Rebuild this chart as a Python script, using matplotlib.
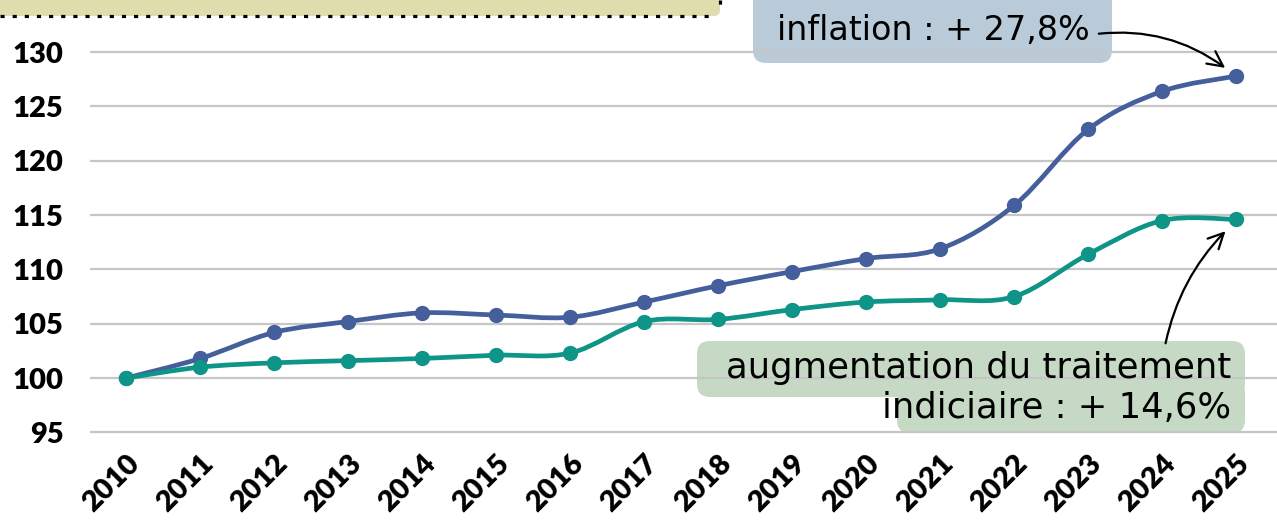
import matplotlib
matplotlib.use("Agg")
import matplotlib.pyplot as plt
import numpy as np
from matplotlib.path import Path
from matplotlib.patches import PathPatch, FancyBboxPatch

# Data (index 2010 = 100)
years = list(range(2010, 2026))
inflation = [100, 101.8, 104.2, 105.2, 106.0, 105.8, 105.6, 107.0,
             108.5, 109.8, 111.0, 111.9, 115.9, 122.9, 126.4, 127.8]
traitement = [100, 101.0, 101.4, 101.6, 101.8, 102.1, 102.3, 105.2,
              105.4, 106.3, 107.0, 107.2, 107.5, 111.4, 114.5, 114.6]
y_ticks = [95, 100, 105, 110, 115, 120, 125, 130]
label_infl = "inflation : + 27,8%"
label_trait_1 = "augmentation du traitement"
label_trait_2 = "indiciaire : + 14,6%"

BLUE = "#455e9c"
GREEN = "#0f9488"
TICK_FONT = "Lato"
TEXT_FONT = "DejaVu Sans"

W, H = 1277, 523


def smooth_path(xs, ys):
    # Catmull-Rom style smoothing turned into cubic bezier segments
    pts = np.column_stack([xs, ys]).astype(float)
    verts = [pts[0]]
    codes = [Path.MOVETO]
    n = len(pts)
    for i in range(n - 1):
        p0 = pts[i - 1] if i > 0 else pts[i]
        p1 = pts[i]
        p2 = pts[i + 1]
        p3 = pts[i + 2] if i + 2 < n else pts[i + 1]
        c1 = p1 + (p2 - p0) / 6.0
        c2 = p2 - (p3 - p1) / 6.0
        verts += [c1, c2, p2]
        codes += [Path.CURVE4] * 3
    return Path(verts, codes)


fig = plt.figure(figsize=(W / 100, H / 100), dpi=100)

# background layer (pixel coords) for the boxes
bg = fig.add_axes([0, 0, 1, 1], zorder=0)
bg.set_xlim(0, W)
bg.set_ylim(H, 0)
bg.axis("off")

# main chart
ax_top, ax_bot = 41.3, 443.2
ax = fig.add_axes([90 / W, 1 - ax_bot / H, 1 - 90 / W, (ax_bot - ax_top) / H], zorder=1)
ax.set_facecolor("none")
ax.set_xlim(2009.51, 2025.55)
ax.set_ylim(94, 131)
ax.set_yticks(y_ticks)
ax.set_xticks(years)
for s in ax.spines.values():
    s.set_visible(False)
ax.grid(axis="y", color="#c6c6c6", linewidth=1.6)
ax.set_axisbelow(True)
ax.tick_params(length=0)
ax.tick_params(axis="y", pad=19)
ax.tick_params(axis="x", pad=5)
for lab in ax.get_yticklabels():
    lab.set_fontfamily(TICK_FONT)
    lab.set_fontweight("heavy")
    lab.set_fontsize(21)
ax.set_xticklabels([str(y) for y in years], rotation=45, ha="right", va="top",
                   rotation_mode="anchor", fontfamily=TICK_FONT, fontweight="heavy",
                   fontsize=21)

for vals, col in [(inflation, BLUE), (traitement, GREEN)]:
    ax.add_patch(PathPatch(smooth_path(years, vals), fill=False, edgecolor=col,
                           linewidth=3.4, capstyle="round", zorder=3))
    ax.plot(years, vals, linestyle="none", marker="o", markersize=10,
            color=col, zorder=4)

# title strip (cut off at the top)
bg.add_patch(FancyBboxPatch((-30, -40), 750, 56, boxstyle="round,pad=0,rounding_size=6",
                            facecolor="#dfdcae", edgecolor="none"))
bg.plot([0, 715], [16, 16], color="black", linewidth=2.3, linestyle=(0, (1.3, 2.5)),
        dash_capstyle="butt")
bg.plot([720, 720], [0, 12], color="black", linewidth=2.3, linestyle=(0, (1.3, 2.5)),
        dash_capstyle="butt")

# annotation boxes
bg.add_patch(FancyBboxPatch((753, -20), 359, 83, boxstyle="round,pad=0,rounding_size=13",
                            facecolor="#b9cbd9", edgecolor="none"))
bg.add_patch(FancyBboxPatch((697, 341), 548, 56, boxstyle="round,pad=0,rounding_size=13",
                            facecolor="#c5d9c5", edgecolor="none"))
bg.add_patch(FancyBboxPatch((897, 380), 348, 53, boxstyle="round,pad=0,rounding_size=13",
                            facecolor="#c5d9c5", edgecolor="none"))

# foreground layer for texts and arrows
fg = fig.add_axes([0, 0, 1, 1], zorder=2)
fg.set_xlim(0, W)
fg.set_ylim(H, 0)
fg.axis("off")

fg.text(933, 30, label_infl, ha="center", va="center", fontsize=24,
        fontfamily=TEXT_FONT, color="black")
fg.text(1231, 368, label_trait_1, ha="right", va="center", fontsize=25.5,
        fontfamily=TEXT_FONT, color="black")
fg.text(1231, 408, label_trait_2, ha="right", va="center", fontsize=25.5,
        fontfamily=TEXT_FONT, color="black")

arrow_style = "->,head_length=1.1,head_width=0.55"
fg.annotate("", xy=(years[-1] - 0.12, inflation[-1] + 0.6), xycoords=ax.transData,
            xytext=(1096, 34), textcoords="data",
            arrowprops=dict(arrowstyle=arrow_style, color="black",
                            linewidth=1.6, connectionstyle="arc3,rad=-0.2"))
fg.annotate("", xy=(years[-1] - 0.12, traitement[-1] - 0.9), xycoords=ax.transData,
            xytext=(1165, 346), textcoords="data",
            arrowprops=dict(arrowstyle=arrow_style, color="black",
                            linewidth=1.6, connectionstyle="arc3,rad=-0.15"))

fig.savefig("out.png", dpi=100)
